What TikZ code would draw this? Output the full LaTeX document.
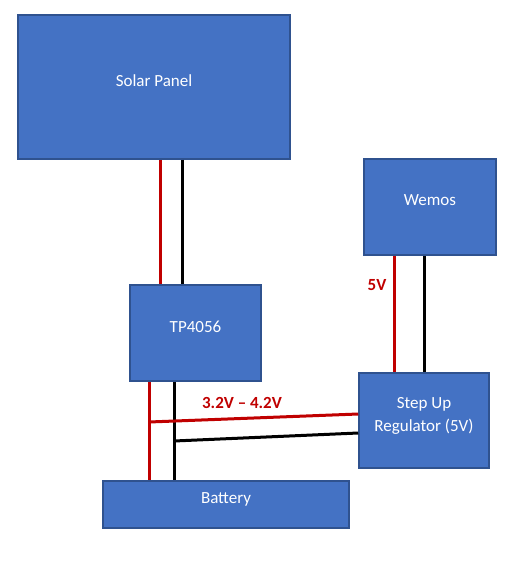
\documentclass[tikz,border=0pt]{standalone}
\usepackage{fontspec}
\setmainfont{Carlito}
\definecolor{boxblue}{HTML}{4472C4}
\definecolor{boxedge}{HTML}{2F528F}
\definecolor{wirered}{HTML}{C00000}

\begin{document}
\begin{tikzpicture}[x=1pt, y=-1pt,
    block/.style={draw=boxedge, line width=1.5pt, fill=boxblue, text=white, inner sep=0pt,
        text depth=13pt, align=center, font=\fontsize{17}{23}\selectfont},
    redwire/.style={draw=wirered, line width=3pt},
    blackwire/.style={draw=black, line width=3pt},
    volt/.style={text=wirered, font=\fontsize{17}{20}\selectfont\bfseries}]
            \useasboundingbox (0,0) rectangle (525,576);
            \node[block, minimum width=272pt, minimum height=144pt] (solar) at (154,87) {Solar Panel};
            \node[block, minimum width=132pt, minimum height=96pt] (wemos) at (430,207) {Wemos};
            \node[block, minimum width=131pt, minimum height=96pt] (tp) at (195.5,333) {TP4056};
            \node[block, minimum width=130pt, minimum height=95pt] (stepup) at (424,420.5) {Step Up\\Regulator (5V)};
            \node[block, minimum width=246pt, minimum height=47pt] (battery) at (226,504.5) {Battery};
            \draw[redwire] ([xshift=6pt]solar.south) -- ([xshift=6pt]solar.south |- tp.north);
            \draw[blackwire] ([xshift=28pt]solar.south) -- ([xshift=28pt]solar.south |- tp.north);
            \draw[redwire] ([xshift=-36pt]wemos.south) -- ([xshift=-36pt]wemos.south |- stepup.north);
            \draw[blackwire] ([xshift=-6pt]wemos.south) -- ([xshift=-6pt]wemos.south |- stepup.north);
            \draw[redwire] ([xshift=-46.5pt]tp.south) -- ([xshift=-46.5pt]tp.south |- battery.north);
            \draw[blackwire] ([xshift=-21.5pt]tp.south) -- ([xshift=-21.5pt]tp.south |- battery.north);
            \coordinate (redjoin) at (149,422);
            \coordinate (blackjoin) at (174,441);
            \draw[redwire] (redjoin) -- ([yshift=6.5pt]stepup.west);
            \draw[blackwire] (blackjoin) -- ([yshift=-12.5pt]stepup.west);
            \node[volt] (vbat) at (242,403) {3.2V – 4.2V};
            \node[volt] (vout) at (377,285) {5V};
        \end{tikzpicture}
\end{document}
